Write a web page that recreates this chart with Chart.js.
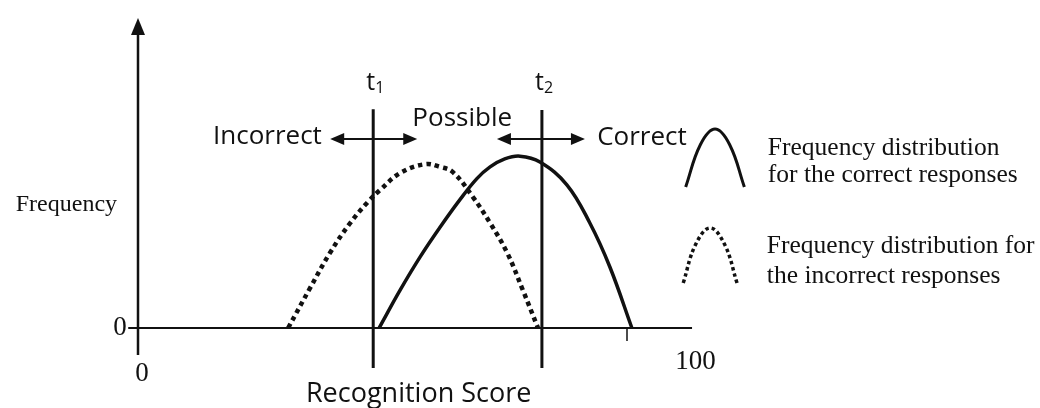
<!DOCTYPE html>
<html lang="en">
<head>
  <meta charset="UTF-8">
  <title>Recognition Score - frequency distributions</title>
  <script src="https://cdn.jsdelivr.net/npm/chart.js"></script>
  <style>
    html, body { margin: 0; padding: 0; background: #fff; }
    .chart-box { width: 1040px; height: 408px; position: relative; }
  </style>
</head>
<body>
  <div class="chart-box"><canvas id="scoreChart"></canvas></div>

  <script>
    // Values (score on x, frequency on y)
    const correctScores = [49.3, 53.6, 57.7, 61.8, 65.8, 69.3, 72.0, 75.0, 78.1, 82.2, 87.7, 92.4, 96.5, 101.0];
    const correctFreq = [0, 12.3, 23.1, 32.8, 41.6, 48.5, 52.3, 54.9, 55.8, 53.9, 46.5, 34.1, 19.8, 0];

    const incorrectScores = [30.7, 35.2, 39.3, 43.4, 47.0, 49.5, 53.6, 58.7, 61.8, 64.4, 68.5, 72.0, 75.5, 78.7, 81.8];
    const incorrectFreq = [0, 13.0, 24.5, 34.1, 40.9, 44.8, 50.3, 53.2, 52.3, 50.6, 42.5, 34.1, 24.4, 12.3, 0];

    // thresholds t1, t2 and how far their lines reach
    const thresholds = [48.1, 82.6];
    const thresholdTop = [71.0, 70.8];
    const thresholdBottom = [-13.0, -13.0];
    const thresholdNames = ['1', '2'];

    // small curve symbols in the key
    const keyCorrectX = [112.0, 115.0, 118.0, 121.0, 124.0];
    const keyCorrectY = [45.8, 59.5, 64.6, 59.5, 45.8];
    const keyIncorrectX = [111.5, 114.0, 117.0, 120.0, 122.5];
    const keyIncorrectY = [14.6, 27.0, 32.5, 27.0, 14.6];

    const regionNames = ['Incorrect', 'Possible', 'Correct'];
    const keyText = [
      ['Frequency distribution', 'for the correct responses'],
      ['Frequency distribution for', 'the incorrect responses']
    ];
    const xTickLabels = ['0', '100'];
    const yTickLabels = ['0'];

    function toPoints(xs, ys) {
      return xs.map((x, i) => ({ x: x, y: ys[i] }));
    }

    const ink = '#111';
    const sans = '"Open Sans", sans-serif';
    const serif = '"Liberation Serif", "Times New Roman", serif';

    function arrowHead(ctx, x, y, dir) {
      ctx.beginPath();
      ctx.moveTo(x, y);
      ctx.lineTo(x - dir * 14, y - 6);
      ctx.lineTo(x - dir * 14, y + 6);
      ctx.closePath();
      ctx.fill();
    }

    const decor = {
      id: 'decor',
      beforeDatasetsDraw(chart) {
        const ctx = chart.ctx;
        const sx = chart.scales.x, sy = chart.scales.y;
        ctx.save();
        ctx.strokeStyle = ink;
        ctx.fillStyle = ink;
        ctx.lineWidth = 2;
        // x axis
        ctx.beginPath();
        ctx.moveTo(sx.getPixelForValue(-2), sy.getPixelForValue(0));
        ctx.lineTo(sx.getPixelForValue(113.3), sy.getPixelForValue(0));
        ctx.stroke();
        // tick at 100
        ctx.lineWidth = 1.5;
        ctx.beginPath();
        ctx.moveTo(sx.getPixelForValue(100), sy.getPixelForValue(0));
        ctx.lineTo(sx.getPixelForValue(100), sy.getPixelForValue(-4.2));
        ctx.stroke();
        // y axis with arrow
        ctx.lineWidth = 2.5;
        const x0 = sx.getPixelForValue(0);
        const top = sy.getPixelForValue(100);
        ctx.beginPath();
        ctx.moveTo(x0, sy.getPixelForValue(-8.8));
        ctx.lineTo(x0, top + 10);
        ctx.stroke();
        ctx.beginPath();
        ctx.moveTo(x0, top - 2);
        ctx.lineTo(x0 - 7, top + 15);
        ctx.lineTo(x0 + 7, top + 15);
        ctx.closePath();
        ctx.fill();
        ctx.restore();
      },
      afterDatasetsDraw(chart) {
        const ctx = chart.ctx;
        const sx = chart.scales.x, sy = chart.scales.y;
        const px = v => sx.getPixelForValue(v);
        const py = v => sy.getPixelForValue(v);
        ctx.save();
        ctx.fillStyle = ink;
        ctx.strokeStyle = ink;

        // region arrows
        ctx.lineWidth = 2;
        const ay = py(61.4);
        [[39.3, 57.1], [73.4, 91.4]].forEach(([a, b]) => {
          ctx.beginPath();
          ctx.moveTo(px(a) + 6, ay);
          ctx.lineTo(px(b) - 6, ay);
          ctx.stroke();
          arrowHead(ctx, px(a), ay, -1);
          arrowHead(ctx, px(b), ay, 1);
        });

        // region names
        ctx.font = '26px ' + sans;
        ctx.textBaseline = 'middle';
        ctx.textAlign = 'right';
        ctx.fillText(regionNames[0], px(37.6), py(62.3));
        ctx.textAlign = 'center';
        ctx.fillText(regionNames[1], px(66.3), py(68.0));
        ctx.textAlign = 'left';
        ctx.fillText(regionNames[2], px(93.9), py(61.7));

        // threshold names t1, t2
        thresholds.forEach((t, i) => {
          ctx.font = '25px ' + sans;
          ctx.textAlign = 'right';
          ctx.textBaseline = 'alphabetic';
          const bx = px(t) + 2, by = py(77.3);
          ctx.fillText('t', bx, by);
          ctx.font = '16px ' + sans;
          ctx.textAlign = 'left';
          ctx.fillText(thresholdNames[i], bx, by + 3);
        });

        // axis title and tick labels
        ctx.font = '27px ' + sans;
        ctx.textAlign = 'center';
        ctx.textBaseline = 'alphabetic';
        ctx.fillText('Recognition Score', px(57.4), py(-24.0));

        ctx.font = '27px ' + serif;
        ctx.textBaseline = 'middle';
        ctx.fillText(xTickLabels[0], px(0.8), py(-15.0));
        ctx.fillText(xTickLabels[1], px(114.0), py(-11.0));
        ctx.fillText(yTickLabels[0], px(-3.7), py(0));

        ctx.font = '24px ' + serif;
        ctx.textAlign = 'left';
        ctx.fillText('Frequency', px(-25.0), py(40.0));

        // key text
        ctx.font = '25.5px ' + serif;
        ctx.textBaseline = 'alphabetic';
        ctx.fillText(keyText[0][0], px(128.8), py(56.2));
        ctx.fillText(keyText[0][1], px(128.8), py(47.4));
        ctx.fillText(keyText[1][0], px(128.6), py(24.4));
        ctx.fillText(keyText[1][1], px(128.6), py(14.6));
        ctx.restore();
      }
    };

    function initChart() {
      const ctx = document.getElementById('scoreChart').getContext('2d');
      const solid = { borderColor: ink, borderWidth: 3.5, pointRadius: 0, fill: false,
                      tension: 0.4, clip: false };
      const dotted = Object.assign({}, solid, { borderDash: [4.5, 4], borderWidth: 4.5 });

      const datasets = [
        Object.assign({ label: 'Correct responses', data: toPoints(correctScores, correctFreq) }, solid),
        Object.assign({ label: 'Incorrect responses', data: toPoints(incorrectScores, incorrectFreq) }, dotted),
        Object.assign({ label: 'key correct', data: toPoints(keyCorrectX, keyCorrectY) }, solid, { borderWidth: 3 }),
        Object.assign({ label: 'key incorrect', data: toPoints(keyIncorrectX, keyIncorrectY) }, dotted,
                      { borderWidth: 3.5, borderDash: [3.5, 3] })
      ];
      thresholds.forEach((t, i) => {
        datasets.push({
          label: 't' + thresholdNames[i],
          data: [{ x: t, y: thresholdTop[i] }, { x: t, y: thresholdBottom[i] }],
          borderColor: ink, borderWidth: 3, pointRadius: 0, clip: false
        });
      });

      new Chart(ctx, {
        type: 'line',
        data: { datasets: datasets },
        options: {
          responsive: true,
          maintainAspectRatio: false,
          animation: false,
          layout: { padding: { left: 138, right: 266.3, top: 20, bottom: 80 } },
          plugins: { legend: { display: false }, tooltip: { enabled: false } },
          scales: {
            x: { type: 'linear', min: 0, max: 130, display: false },
            y: { type: 'linear', min: 0, max: 100, display: false }
          }
        },
        plugins: [decor]
      });
    }

    document.addEventListener('DOMContentLoaded', initChart);
  </script>
</body>
</html>
